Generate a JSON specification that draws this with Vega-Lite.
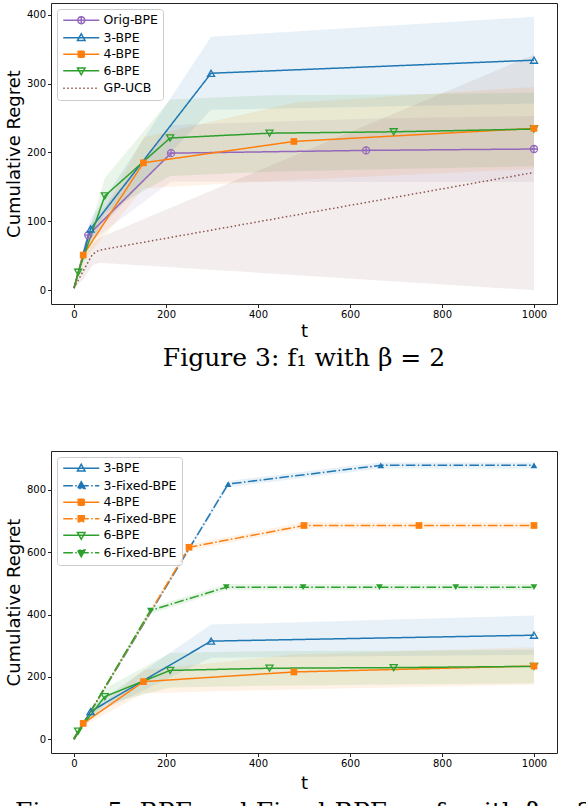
{
  "$schema": "https://vega.github.io/schema/vega-lite/v6.json",
  "padding": {"left": 4, "top": 2, "right": 0, "bottom": 0},
  "datasets": {
    "runs": [
      {"series": "Orig-BPE", "t": 0, "y": 3, "lo": 3, "hi": 3},
      {"series": "Orig-BPE", "t": 31, "y": 80, "lo": 68, "hi": 92},
      {"series": "Orig-BPE", "t": 211, "y": 199, "lo": 158, "hi": 240},
      {"series": "Orig-BPE", "t": 635, "y": 203, "lo": 157, "hi": 249},
      {"series": "Orig-BPE", "t": 1000, "y": 205, "lo": 157, "hi": 253},
      {"series": "3-BPE", "t": 0, "y": 3, "lo": 3, "hi": 3},
      {"series": "3-BPE", "t": 36, "y": 89, "lo": 75, "hi": 103},
      {"series": "3-BPE", "t": 298, "y": 315, "lo": 262, "hi": 368},
      {"series": "3-BPE", "t": 1000, "y": 334, "lo": 271, "hi": 397},
      {"series": "4-BPE", "t": 0, "y": 3, "lo": 3, "hi": 3},
      {"series": "4-BPE", "t": 20, "y": 51, "lo": 42, "hi": 60},
      {"series": "4-BPE", "t": 151, "y": 185, "lo": 148, "hi": 222},
      {"series": "4-BPE", "t": 478, "y": 216, "lo": 160, "hi": 272},
      {"series": "4-BPE", "t": 1000, "y": 235, "lo": 176, "hi": 295},
      {"series": "6-BPE", "t": 0, "y": 3, "lo": 3, "hi": 3},
      {"series": "6-BPE", "t": 9, "y": 26, "lo": 20, "hi": 32},
      {"series": "6-BPE", "t": 67, "y": 137, "lo": 112, "hi": 163},
      {"series": "6-BPE", "t": 209, "y": 221, "lo": 166, "hi": 277},
      {"series": "6-BPE", "t": 425, "y": 228, "lo": 172, "hi": 283},
      {"series": "6-BPE", "t": 695, "y": 230, "lo": 176, "hi": 284},
      {"series": "6-BPE", "t": 1000, "y": 234, "lo": 180, "hi": 287},
      {"series": "GP-UCB", "t": 0, "y": 3, "lo": 3, "hi": 3},
      {"series": "GP-UCB", "t": 20, "y": 28, "lo": 16, "hi": 40},
      {"series": "GP-UCB", "t": 40, "y": 52, "lo": 36, "hi": 68},
      {"series": "GP-UCB", "t": 54, "y": 58, "lo": 40, "hi": 76},
      {"series": "GP-UCB", "t": 1000, "y": 171, "lo": 0, "hi": 342},
      {"series": "3-Fixed-BPE", "t": 0, "y": 0, "lo": 0, "hi": 0},
      {"series": "3-Fixed-BPE", "t": 335, "y": 819, "lo": 809, "hi": 829},
      {"series": "3-Fixed-BPE", "t": 667, "y": 879, "lo": 869, "hi": 889},
      {"series": "3-Fixed-BPE", "t": 1000, "y": 879, "lo": 869, "hi": 889},
      {"series": "4-Fixed-BPE", "t": 0, "y": 0, "lo": 0, "hi": 0},
      {"series": "4-Fixed-BPE", "t": 250, "y": 616, "lo": 606, "hi": 626},
      {"series": "4-Fixed-BPE", "t": 500, "y": 686, "lo": 676, "hi": 696},
      {"series": "4-Fixed-BPE", "t": 750, "y": 686, "lo": 676, "hi": 696},
      {"series": "4-Fixed-BPE", "t": 1000, "y": 686, "lo": 676, "hi": 696},
      {"series": "6-Fixed-BPE", "t": 0, "y": 0, "lo": 0, "hi": 0},
      {"series": "6-Fixed-BPE", "t": 166, "y": 413, "lo": 403, "hi": 423},
      {"series": "6-Fixed-BPE", "t": 331, "y": 488, "lo": 478, "hi": 498},
      {"series": "6-Fixed-BPE", "t": 498, "y": 488, "lo": 478, "hi": 498},
      {"series": "6-Fixed-BPE", "t": 664, "y": 488, "lo": 478, "hi": 498},
      {"series": "6-Fixed-BPE", "t": 830, "y": 488, "lo": 478, "hi": 498},
      {"series": "6-Fixed-BPE", "t": 1000, "y": 488, "lo": 478, "hi": 498}
    ]
  },
  "config": {
    "font": "DejaVu Sans",
    "view": {"stroke": "#222", "strokeWidth": 1},
    "axis": {
      "grid": false,
      "domain": false,
      "tickColor": "#222",
      "tickSize": 3.5,
      "labelFontSize": 10,
      "labelColor": "#000",
      "labelPadding": 2,
      "titleFontSize": 18,
      "titleFontWeight": "normal",
      "titleColor": "#000",
      "titlePadding": 3
    },
    "title": {
      "font": "DejaVu Serif",
      "fontSize": 25,
      "fontWeight": "normal",
      "color": "#000",
      "orient": "bottom",
      "anchor": "middle",
      "offset": 5
    },
    "legend": {
      "title": null,
      "orient": "top-left",
      "offset": 6,
      "symbolType": "stroke",
      "symbolSize": 100,
      "symbolOffset": 13,
      "symbolStrokeWidth": 1.5,
      "symbolOpacity": 1,
      "labelFontSize": 12.5,
      "labelColor": "#000",
      "labelOffset": 16,
      "rowPadding": 3.5,
      "padding": 5,
      "strokeColor": "#ccc",
      "fillColor": "rgba(255,255,255,0.8)",
      "cornerRadius": 3
    },
    "concat": {"spacing": 79}
  },
  "resolve": {
    "scale": {"color": "independent", "fill": "independent", "stroke": "independent", "strokeDash": "independent", "shape": "independent"}
  },
  "vconcat": [
    {
      "width": 506,
      "height": 301,
      "title": {"text": "Figure 3: f₁ with β = 2"},
      "data": {"name": "runs"},
      "transform": [
        {"filter": {"field": "series", "oneOf": ["Orig-BPE", "3-BPE", "4-BPE", "6-BPE", "GP-UCB"]}}
      ],
      "encoding": {
        "x": {
          "field": "t",
          "type": "quantitative",
          "scale": {"domain": [-50, 1050], "nice": false, "zero": false},
          "axis": {"values": [0, 200, 400, 600, 800, 1000], "format": "d", "title": "t"}
        }
      },
      "layer": [
        {
          "mark": {"type": "area", "fillOpacity": 0.1},
          "encoding": {
            "y": {
              "field": "lo",
              "type": "quantitative",
              "scale": {"domain": [-20, 417], "nice": false, "zero": false},
              "axis": {"values": [0, 50, 100, 150, 200, 250, 300, 350, 400], "title": "Cumulative Regret"}
            },
            "y2": {"field": "hi"},
            "fill": {
              "field": "series",
              "type": "nominal",
              "scale": {
                "domain": ["GP-UCB", "6-BPE", "4-BPE", "3-BPE", "Orig-BPE"],
                "range": ["#8c564b", "#2ca02c", "#ff7f0e", "#1f77b4", "#9467bd"]
              },
              "legend": null
            }
          }
        },
        {
          "mark": {"type": "line", "strokeWidth": 1.5},
          "encoding": {
            "y": {"field": "y", "type": "quantitative"},
            "color": {
              "field": "series",
              "type": "nominal",
              "scale": {
                "domain": ["Orig-BPE", "3-BPE", "4-BPE", "6-BPE", "GP-UCB"],
                "range": ["#9467bd", "#1f77b4", "#ff7f0e", "#2ca02c", "#8c564b"]
              },
              "legend": {
                "symbolType": "stroke",
                "encoding": {
                  "symbols": {
                    "shape": {"value": {"expr": "{'Orig-BPE':'M-3.6,0H3.6M-0.7,0A0.7,0.7,0,1,1,0.7,0A0.7,0.7,0,1,1,-0.7,0ZM0,-0.7V0.7','3-BPE':'M-3.6,0H3.6M0,-0.8L0.75,0.55L-0.75,0.55Z','4-BPE':'M-3.6,0H3.6M-0.6,-0.6H0.6V0.6H-0.6Z','6-BPE':'M-3.6,0H3.6M0,0.8L0.75,-0.55L-0.75,-0.55Z','GP-UCB':'M-3.6,0H3.6'}[datum.value]"}},
                    "fill": {"value": {"expr": "{'4-BPE':'#ff7f0e'}[datum.value] || 'transparent'"}},
                    "opacity": {"value": 1}
                  }
                }
              }
            },
            "strokeDash": {
              "field": "series",
              "type": "nominal",
              "scale": {
                "domain": ["Orig-BPE", "3-BPE", "4-BPE", "6-BPE", "GP-UCB"],
                "range": [[1, 0], [1, 0], [1, 0], [1, 0], [1.5, 2.5]]
              }
            }
          }
        },
        {
          "transform": [
            {"filter": {"field": "series", "oneOf": ["Orig-BPE", "3-BPE", "6-BPE"]}},
            {"filter": "datum.t > 0"}
          ],
          "mark": {"type": "point", "filled": false, "size": 50, "strokeWidth": 1.3, "opacity": 1},
          "encoding": {
            "y": {"field": "y", "type": "quantitative"},
            "stroke": {
              "field": "series",
              "type": "nominal",
              "scale": {
                "domain": ["GP-UCB", "6-BPE", "4-BPE", "3-BPE", "Orig-BPE"],
                "range": ["#8c564b", "#2ca02c", "#ff7f0e", "#1f77b4", "#9467bd"]
              },
              "legend": null
            },
            "shape": {
              "field": "series",
              "type": "nominal",
              "scale": {
                "domain": ["Orig-BPE", "3-BPE", "4-BPE", "6-BPE"],
                "range": ["M-1,0A1,1,0,1,1,1,0A1,1,0,1,1,-1,0ZM-1,0H1M0,-1V1", "triangle-up", "square", "triangle-down"]
              },
              "legend": null
            }
          }
        },
        {
          "transform": [
            {"filter": {"field": "series", "equal": "4-BPE"}},
            {"filter": "datum.t > 0"}
          ],
          "mark": {"type": "point", "filled": true, "size": 45, "opacity": 1},
          "encoding": {
            "y": {"field": "y", "type": "quantitative"},
            "fill": {"field": "series", "type": "nominal", "legend": null},
            "shape": {"field": "series", "type": "nominal", "legend": null}
          }
        }
      ]
    },
    {
      "width": 506,
      "height": 302,
      "title": {"text": "Figure 5: BPE and Fixed-BPE on f₁ with β = 2", "offset": 7},
      "data": {"name": "runs"},
      "transform": [
        {"filter": {"field": "series", "oneOf": ["3-BPE", "3-Fixed-BPE", "4-BPE", "4-Fixed-BPE", "6-BPE", "6-Fixed-BPE"]}}
      ],
      "encoding": {
        "x": {
          "field": "t",
          "type": "quantitative",
          "scale": {"domain": [-50, 1050], "nice": false, "zero": false},
          "axis": {"values": [0, 200, 400, 600, 800, 1000], "format": "d", "title": "t", "titlePadding": 6}
        }
      },
      "layer": [
        {
          "mark": {"type": "area", "fillOpacity": 0.1},
          "encoding": {
            "y": {
              "field": "lo",
              "type": "quantitative",
              "scale": {"domain": [-44, 925], "nice": false, "zero": false},
              "axis": {"values": [0, 200, 400, 600, 800], "title": "Cumulative Regret"}
            },
            "y2": {"field": "hi"},
            "fill": {
              "field": "series",
              "type": "nominal",
              "scale": {
                "domain": ["6-Fixed-BPE", "6-BPE", "4-Fixed-BPE", "4-BPE", "3-Fixed-BPE", "3-BPE"],
                "range": ["#2ca02c", "#2ca02c", "#ff7f0e", "#ff7f0e", "#1f77b4", "#1f77b4"]
              },
              "legend": null
            }
          }
        },
        {
          "mark": {"type": "line", "strokeWidth": 1.5},
          "encoding": {
            "y": {"field": "y", "type": "quantitative"},
            "color": {
              "field": "series",
              "type": "nominal",
              "scale": {
                "domain": ["3-BPE", "3-Fixed-BPE", "4-BPE", "4-Fixed-BPE", "6-BPE", "6-Fixed-BPE"],
                "range": ["#1f77b4", "#1f77b4", "#ff7f0e", "#ff7f0e", "#2ca02c", "#2ca02c"]
              },
              "legend": {
                "symbolType": "stroke",
                "encoding": {
                  "symbols": {
                    "shape": {"value": {"expr": "{'3-BPE':'M-3.6,0H3.6M0,-0.8L0.75,0.55L-0.75,0.55Z','3-Fixed-BPE':'M-3.6,0H3.6M0,-0.8L0.75,0.55L-0.75,0.55Z','4-BPE':'M-3.6,0H3.6M-0.6,-0.6H0.6V0.6H-0.6Z','4-Fixed-BPE':'M-3.6,0H3.6M-0.6,-0.6H0.6V0.6H-0.6Z','6-BPE':'M-3.6,0H3.6M0,0.8L0.75,-0.55L-0.75,-0.55Z','6-Fixed-BPE':'M-3.6,0H3.6M0,0.8L0.75,-0.55L-0.75,-0.55Z'}[datum.value]"}},
                    "fill": {"value": {"expr": "{'4-BPE':'#ff7f0e','3-Fixed-BPE':'#1f77b4','4-Fixed-BPE':'#ff7f0e','6-Fixed-BPE':'#2ca02c'}[datum.value] || 'transparent'"}},
                    "opacity": {"value": 1}
                  }
                }
              }
            },
            "strokeDash": {
              "field": "series",
              "type": "nominal",
              "scale": {
                "domain": ["3-BPE", "3-Fixed-BPE", "4-BPE", "4-Fixed-BPE", "6-BPE", "6-Fixed-BPE"],
                "range": [[1, 0], [9.6, 2.4, 1.5, 2.4], [1, 0], [9.6, 2.4, 1.5, 2.4], [1, 0], [9.6, 2.4, 1.5, 2.4]]
              }
            }
          }
        },
        {
          "transform": [
            {"filter": {"field": "series", "oneOf": ["3-BPE", "6-BPE"]}},
            {"filter": "datum.t > 0"}
          ],
          "mark": {"type": "point", "filled": false, "size": 50, "strokeWidth": 1.3, "opacity": 1},
          "encoding": {
            "y": {"field": "y", "type": "quantitative"},
            "stroke": {
              "field": "series",
              "type": "nominal",
              "scale": {
                "domain": ["6-Fixed-BPE", "6-BPE", "4-Fixed-BPE", "4-BPE", "3-Fixed-BPE", "3-BPE"],
                "range": ["#2ca02c", "#2ca02c", "#ff7f0e", "#ff7f0e", "#1f77b4", "#1f77b4"]
              },
              "legend": null
            },
            "shape": {
              "field": "series",
              "type": "nominal",
              "scale": {
                "domain": ["6-Fixed-BPE", "6-BPE", "4-Fixed-BPE", "4-BPE", "3-Fixed-BPE", "3-BPE"],
                "range": ["triangle-down", "triangle-down", "square", "square", "triangle-up", "triangle-up"]
              },
              "legend": null
            }
          }
        },
        {
          "transform": [
            {"filter": {"field": "series", "oneOf": ["3-Fixed-BPE", "4-BPE", "4-Fixed-BPE", "6-Fixed-BPE"]}},
            {"filter": "datum.t > 0"}
          ],
          "mark": {"type": "point", "filled": true, "size": 45, "opacity": 1},
          "encoding": {
            "y": {"field": "y", "type": "quantitative"},
            "fill": {"field": "series", "type": "nominal", "legend": null},
            "shape": {"field": "series", "type": "nominal", "legend": null}
          }
        }
      ]
    }
  ]
}
